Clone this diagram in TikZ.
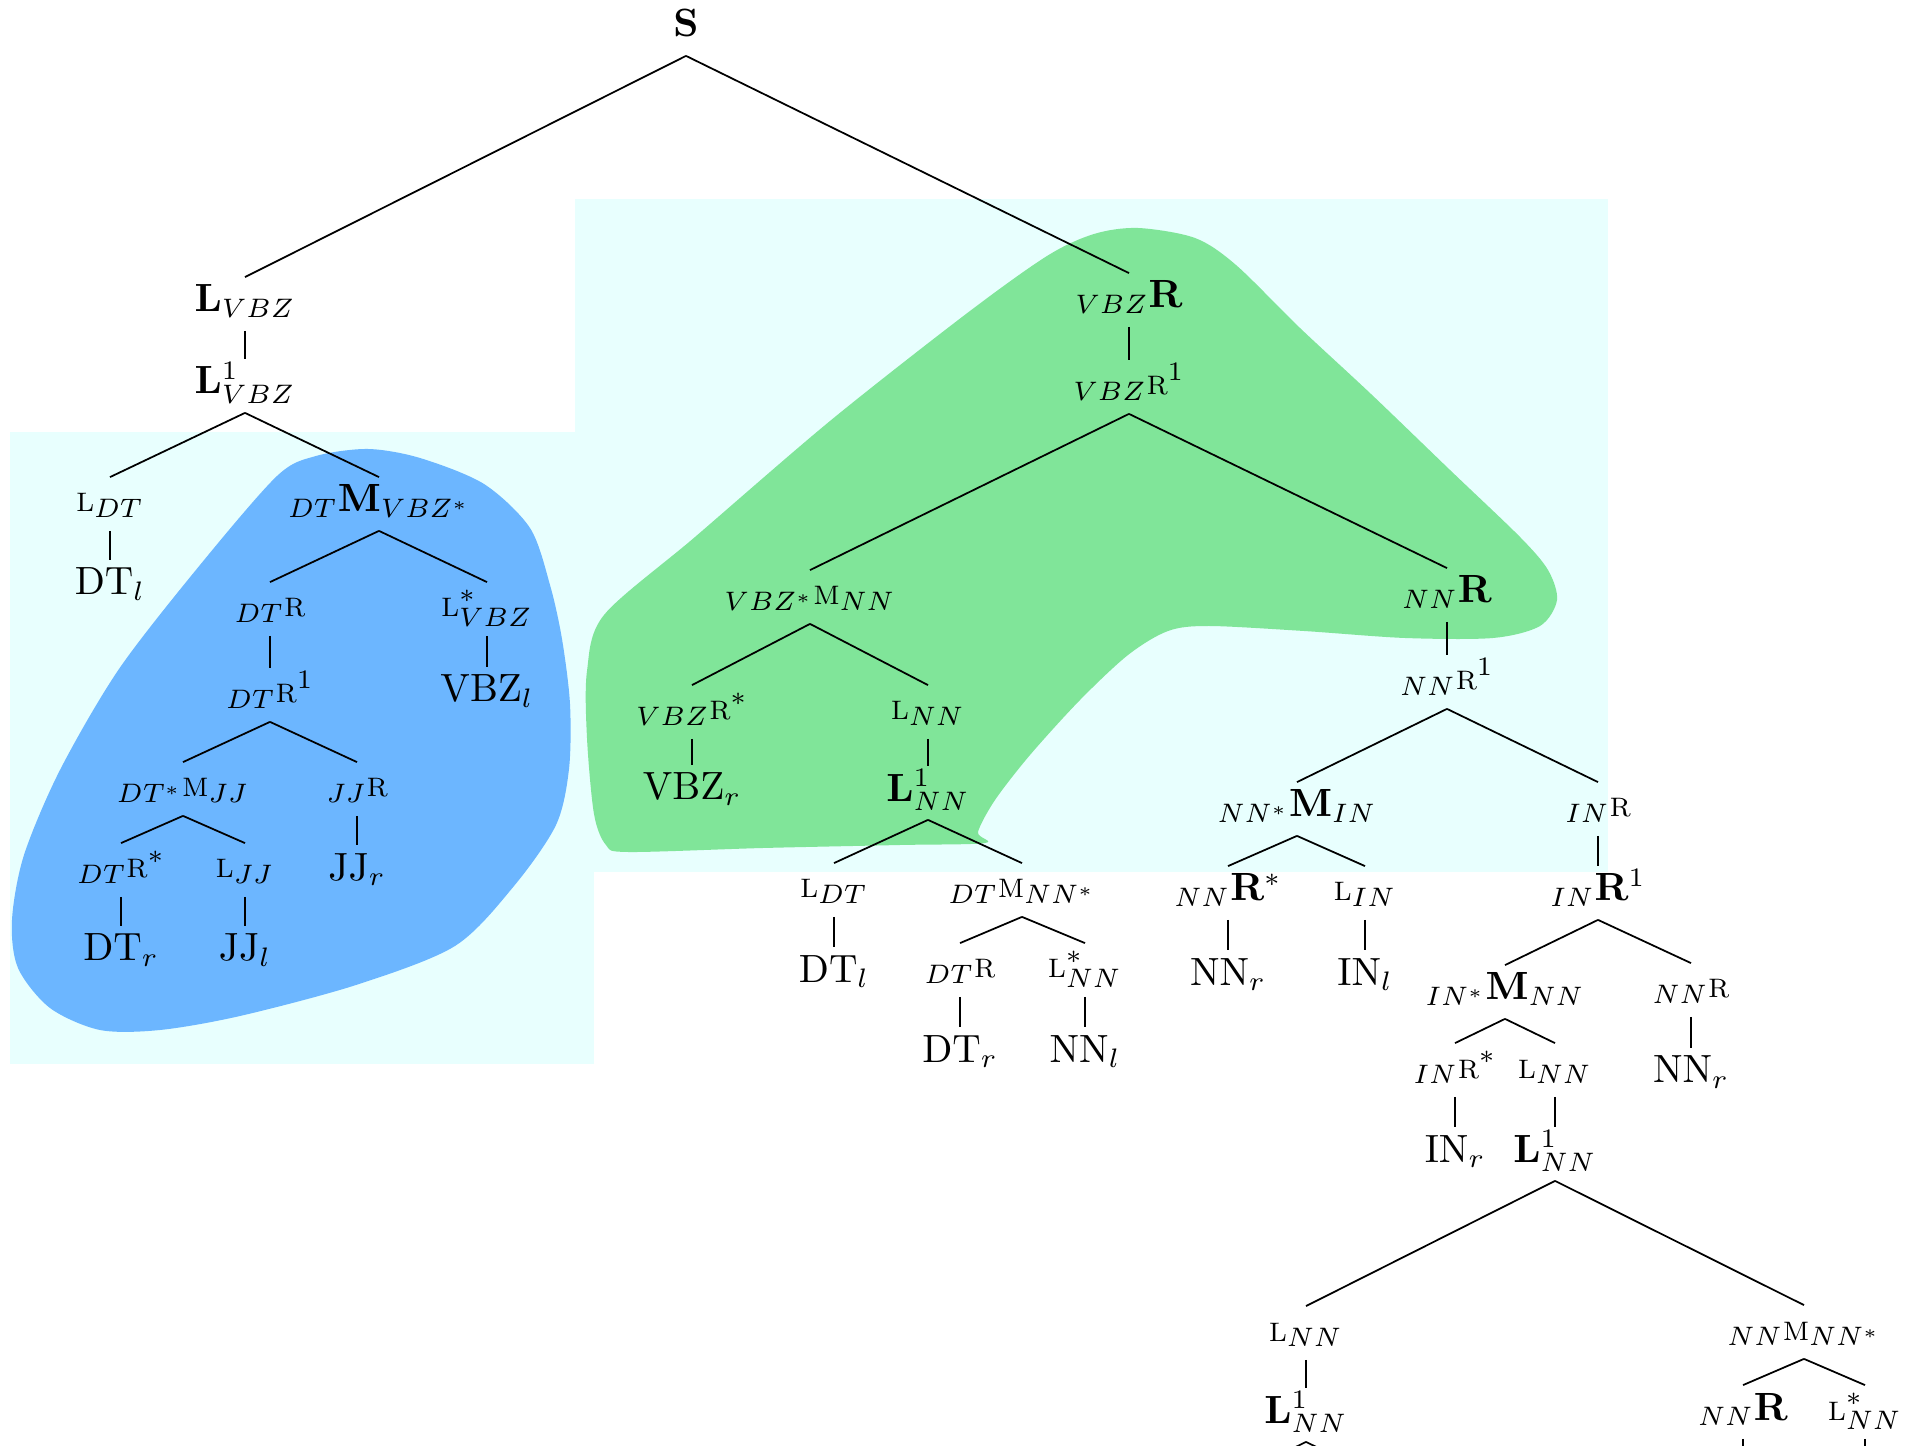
\documentclass[tikz,border=0pt]{standalone}
\usepackage{xcolor}
% scalable Computer Modern shapes for the odd sizes used below
\DeclareFontShape{OML}{cmm}{m}{it}{<-6>cmmi5<6-7>cmmi6<7-8>cmmi7<8-9>cmmi8<9-10>cmmi9<10-12>cmmi10<12->cmmi12}{}
\DeclareFontShape{OT1}{cmr}{m}{n}{<-6>cmr5<6-7>cmr6<7-8>cmr7<8-9>cmr8<9-10>cmr9<10-12>cmr10<12->cmr12}{}
\DeclareFontShape{OT1}{cmr}{bx}{n}{<-6>cmbx5<6-7>cmbx6<7-8>cmbx7<8-9>cmbx8<9-10>cmbx9<10-12>cmbx10<12->cmbx12}{}
\DeclareFontShape{OMS}{cmsy}{m}{n}{<-6>cmsy5<6-7>cmsy6<7-8>cmsy7<8-9>cmsy8<9-10>cmsy9<10->cmsy10}{}
\DeclareMathSizes{11.2}{11.2}{7.6}{5.4}
\definecolor{bgcyan}{RGB}{232,255,254}
\definecolor{blobblue}{RGB}{108,182,255}
\definecolor{blobgreen}{RGB}{128,229,153}
\newcommand{\smsym}[1]{\mbox{\fontsize{7.6}{9}\selectfont #1}}

\begin{document}
\begin{tikzpicture}[x=0.01cm, y=-0.01cm, line width=0.5pt,
    lab/.style={anchor=base, inner sep=0pt, text height=0.34cm, text depth=0.18cm,
        font=\fontsize{11.2}{13.4}\selectfont}]
    \useasboundingbox (0,0) rectangle (1917,1446);
    \clip (0,0) rectangle (1917,1446);

    % Background
    \fill[bgcyan] (575,199) rectangle (1608,872);
    \fill[bgcyan] (10,432) rectangle (594,1064);
    \fill[blobblue] plot[smooth cycle] coordinates {(316,456) (277,476) (200,565) (119,669) (60,770)
        (24,855) (12,920) (18,968) (50,1008) (100,1030) (160,1030) (240,1016) (356,985) (455,946)
        (514,886) (556,825) (569,769) (570,704) (562,639) (550,585) (530,528) (484,484) (420,458) (368,449)};
    \fill[blobgreen] plot[smooth cycle] coordinates {(1138,228) (1195,238) (1236,265) (1300,328) (1371,394)
        (1450,470) (1520,537) (1548,570) (1557,600) (1540,626) (1493,638) (1405,638) (1304,631) (1209,626)
        (1168,631) (1128,655) (1080,700) (1030,755) (995,800) (978,832) (985,843) (900,845) (763,848)
        (628,852) (606,845) (594,814) (587,738) (587,671) (604,615) (695,537) (830,421) (966,314)
        (1047,256) (1094,234)};

    % Nodes
    \node[lab] (s) at (686,37) {$\mathbf{S}$};
    \node[lab] (lvbz) at (245,312) {$\mathbf{L}_{VBZ}$};
    \node[lab] (lvbzA) at (245,394) {$\mathbf{L}^1_{VBZ}$};
    \node[lab] (ldt) at (110,512) {$\smsym{L}_{DT}$};
    \node[lab] (mdt) at (379,512) {${}_{DT}\mathbf{M}_{VBZ^*}$};
    \node[lab] (dtl) at (110,595) {$\mathrm{DT}_l$};
    \node[lab] (rdt) at (270,617) {${}_{DT}\smsym{R}$};
    \node[lab] (lsvbz) at (487,617) {$\smsym{L}^*_{VBZ}$};
    \node[lab] (vbzl) at (487,702) {$\mathrm{VBZ}_l$};
    \node[lab] (rdtA) at (270,703) {${}_{DT}\smsym{R}^1$};
    \node[lab] (mjj) at (183,797) {${}_{DT^*}\smsym{M}_{JJ}$};
    \node[lab] (rjj) at (357,797) {${}_{JJ}\smsym{R}$};
    \node[lab] (jjr) at (357,880) {$\mathrm{JJ}_r$};
    \node[lab] (rsdt) at (121,878) {${}_{DT}\smsym{R}^*$};
    \node[lab] (ljj) at (245,878) {$\smsym{L}_{JJ}$};
    \node[lab] (dtr) at (121,961) {$\mathrm{DT}_r$};
    \node[lab] (jjl) at (245,961) {$\mathrm{JJ}_l$};

    \node[lab] (rvbz) at (1129,308) {${}_{VBZ}\mathbf{R}$};
    \node[lab] (rvbzA) at (1129,395) {${}_{VBZ}\smsym{R}^1$};
    \node[lab] (mvbz) at (810,605) {${}_{VBZ^*}\smsym{M}_{NN}$};
    \node[lab] (rnn) at (1447,603) {${}_{NN}\mathbf{R}$};
    \node[lab] (rsvbz) at (692,720) {${}_{VBZ}\smsym{R}^*$};
    \node[lab] (lnn) at (928,720) {$\smsym{L}_{NN}$};
    \node[lab] (vbzr) at (692,800) {$\mathrm{VBZ}_r$};
    \node[lab] (lnnA) at (928,801) {$\mathbf{L}^1_{NN}$};
    \node[lab] (ldtB) at (834,898) {$\smsym{L}_{DT}$};
    \node[lab] (mdtB) at (1022,898) {${}_{DT}\smsym{M}_{NN^*}$};
    \node[lab] (dtlB) at (834,982) {$\mathrm{DT}_l$};
    \node[lab] (rdtB) at (960,978) {${}_{DT}\smsym{R}$};
    \node[lab] (lsnn) at (1085,978) {$\smsym{L}^*_{NN}$};
    \node[lab] (dtrB) at (960,1062) {$\mathrm{DT}_r$};
    \node[lab] (nnl) at (1085,1062) {$\mathrm{NN}_l$};

    \node[lab] (rnnA) at (1447,690) {${}_{NN}\smsym{R}^1$};
    \node[lab] (mnn) at (1297,817) {${}_{NN^*}\mathbf{M}_{IN}$};
    \node[lab] (rin) at (1598,817) {${}_{IN}\smsym{R}$};
    \node[lab] (rsnn) at (1228,901) {${}_{NN}\mathbf{R}^*$};
    \node[lab] (lin) at (1365,901) {$\smsym{L}_{IN}$};
    \node[lab] (nnr) at (1228,985) {$\mathrm{NN}_r$};
    \node[lab] (inl) at (1365,985) {$\mathrm{IN}_l$};
    \node[lab] (rinA) at (1598,901) {${}_{IN}\mathbf{R}^1$};
    \node[lab] (min) at (1505,1000) {${}_{IN^*}\mathbf{M}_{NN}$};
    \node[lab] (rnnB) at (1691,998) {${}_{NN}\smsym{R}$};
    \node[lab] (nnrB) at (1691,1083) {$\mathrm{NN}_r$};
    \node[lab] (rsin) at (1455,1078) {${}_{IN}\smsym{R}^*$};
    \node[lab] (lnnB) at (1555,1078) {$\smsym{L}_{NN}$};
    \node[lab] (inr) at (1455,1162) {$\mathrm{IN}_r$};
    \node[lab] (lnnC) at (1555,1162) {$\mathbf{L}^1_{NN}$};
    \node[lab] (lnnD) at (1306,1341) {$\smsym{L}_{NN}$};
    \node[lab] (mnnB) at (1804,1340) {${}_{NN}\smsym{M}_{NN^*}$};
    \node[lab] (lnnE) at (1306,1423) {$\mathbf{L}^1_{NN}$};
    \node[lab] (rnnC) at (1743,1420) {${}_{NN}\mathbf{R}$};
    \node[lab] (lsnnB) at (1865,1420) {$\smsym{L}^*_{NN}$};

    % loose ends running off the bottom
    \coordinate (lnnEa) at (1106,1541);
    \coordinate (lnnEb) at (1506,1541);
    \coordinate (rnnCa) at (1743,1490);
    \coordinate (lsnnBa) at (1865,1490);

    % Edges
    \draw (s.south) -- (lvbz.north) (s.south) -- (rvbz.north);
    \draw (lvbz.south) -- (lvbzA.north);
    \draw (lvbzA.south) -- (ldt.north) (lvbzA.south) -- (mdt.north);
    \draw (ldt.south) -- (dtl.north);
    \draw (mdt.south) -- (rdt.north) (mdt.south) -- (lsvbz.north);
    \draw (lsvbz.south) -- (vbzl.north);
    \draw (rdt.south) -- (rdtA.north);
    \draw (rdtA.south) -- (mjj.north) (rdtA.south) -- (rjj.north);
    \draw (rjj.south) -- (jjr.north);
    \draw (mjj.south) -- (rsdt.north) (mjj.south) -- (ljj.north);
    \draw (rsdt.south) -- (dtr.north);
    \draw (ljj.south) -- (jjl.north);

    \draw (rvbz.south) -- (rvbzA.north);
    \draw (rvbzA.south) -- (mvbz.north) (rvbzA.south) -- (rnn.north);
    \draw (mvbz.south) -- (rsvbz.north) (mvbz.south) -- (lnn.north);
    \draw (rsvbz.south) -- (vbzr.north);
    \draw (lnn.south) -- (lnnA.north);
    \draw (lnnA.south) -- (ldtB.north) (lnnA.south) -- (mdtB.north);
    \draw (ldtB.south) -- (dtlB.north);
    \draw (mdtB.south) -- (rdtB.north) (mdtB.south) -- (lsnn.north);
    \draw (rdtB.south) -- (dtrB.north);
    \draw (lsnn.south) -- (nnl.north);

    \draw (rnn.south) -- (rnnA.north);
    \draw (rnnA.south) -- (mnn.north) (rnnA.south) -- (rin.north);
    \draw (mnn.south) -- (rsnn.north) (mnn.south) -- (lin.north);
    \draw (rsnn.south) -- (nnr.north);
    \draw (lin.south) -- (inl.north);
    \draw (rin.south) -- (rinA.north);
    \draw (rinA.south) -- (min.north) (rinA.south) -- (rnnB.north);
    \draw (rnnB.south) -- (nnrB.north);
    \draw (min.south) -- (rsin.north) (min.south) -- (lnnB.north);
    \draw (rsin.south) -- (inr.north);
    \draw (lnnB.south) -- (lnnC.north);
    \draw (lnnC.south) -- (lnnD.north) (lnnC.south) -- (mnnB.north);
    \draw (lnnD.south) -- (lnnE.north);
    \draw (mnnB.south) -- (rnnC.north) (mnnB.south) -- (lsnnB.north);
    \draw (lnnE.south) -- (lnnEa) (lnnE.south) -- (lnnEb);
    \draw (rnnC.south) -- (rnnCa);
    \draw (lsnnB.south) -- (lsnnBa);
\end{tikzpicture}
\end{document}
